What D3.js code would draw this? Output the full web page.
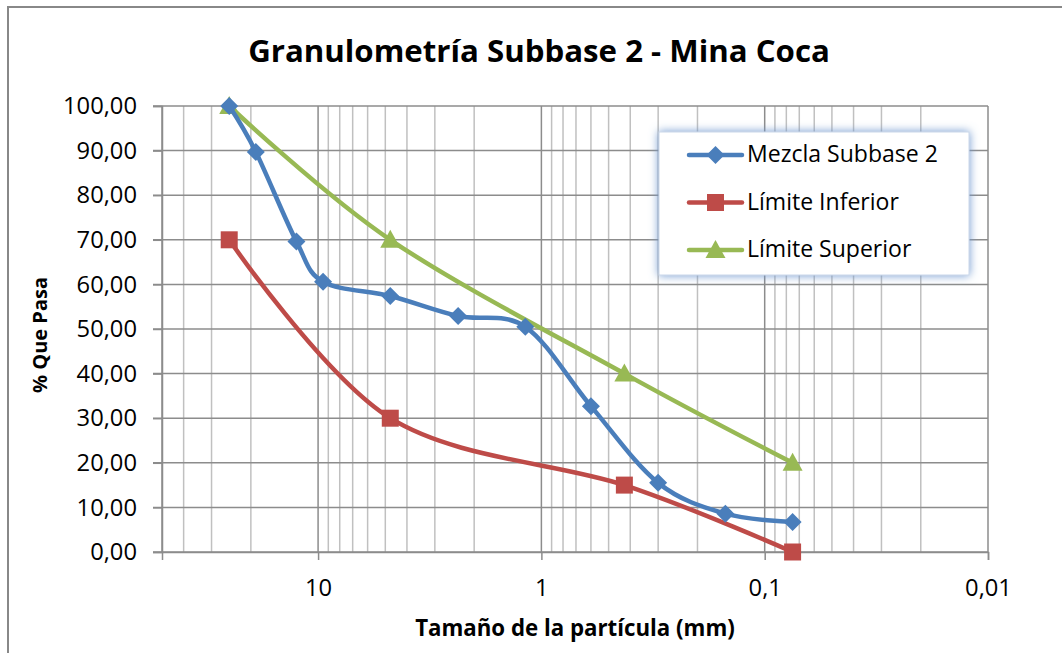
<!DOCTYPE html>
<html><head><meta charset="utf-8">
<script src="https://cdn.jsdelivr.net/npm/d3@7"></script>
<style>body{margin:0;background:#fff}svg{display:block}text{font-family:"Open Sans",sans-serif;fill:#000}</style>
</head><body><svg id="c" width="1062" height="653"></svg>
<script>
const sizes = [25, 19, 12.5, 9.5, 4.75, 2.36, 1.18, 0.6, 0.3, 0.15, 0.075];
const mezcla = [100, 89.7, 69.6, 60.6, 57.4, 52.9, 50.5, 32.7, 15.5, 8.6, 6.7];
const limSizes = [25, 4.75, 0.425, 0.075];
const limInf = [70, 30, 15, 0];
const limSup = [100, 70, 40, 20];
const yTicks = [0,10,20,30,40,50,60,70,80,90,100];
const xTicks = [10, 1, 0.1, 0.01];
const seriesNames = ["Mezcla Subbase 2", "Límite Inferior", "Límite Superior"];

const svg = d3.select("#c");
const x = d3.scaleLog().domain([50, 0.01]).range([162, 988]);
const y = d3.scaleLinear().domain([0, 100]).range([552, 106]);
const fmt = v => d3.format(".2f")(v).replace(".", ",");
const fmtX = v => String(v).replace(".", ",");

const defs = svg.append("defs");
const f = defs.append("filter").attr("id","glow").attr("x","-20%").attr("y","-30%").attr("width","140%").attr("height","160%");
f.append("feGaussianBlur").attr("in","SourceAlpha").attr("stdDeviation",5).attr("result","b");
f.append("feFlood").attr("flood-color","#6f98cf").attr("result","c");
f.append("feComposite").attr("in","c").attr("in2","b").attr("operator","in").attr("result","s");
const fm = f.append("feMerge"); fm.append("feMergeNode").attr("in","s"); fm.append("feMergeNode").attr("in","SourceGraphic");

svg.append("rect").attr("x",8).attr("y",7).attr("width",1100).attr("height",700)
  .attr("fill","none").attr("stroke","#888").attr("stroke-width",2);

function fit(sel, w){ const n=sel.node(); const cur=n.getComputedTextLength(); const fs=parseFloat(sel.attr("font-size")); const nf=fs*w/cur; sel.attr("font-size", nf); return nf; }

// minor gridlines
const minor = [];
for (let d = -2; d <= 1; d++) for (let k = 2; k <= 9; k++) { const v = k*Math.pow(10,d); if (v < 50) minor.push(v); }
svg.append("g").selectAll("line").data(minor).join("line")
  .attr("x1",d=>x(d)).attr("x2",d=>x(d)).attr("y1",y(0)).attr("y2",y(100))
  .attr("stroke","#c0c0c0").attr("stroke-width",1.5);
svg.append("g").selectAll("line").data(xTicks.concat([50])).join("line")
  .attr("x1",d=>x(d)).attr("x2",d=>x(d)).attr("y1",y(0)).attr("y2",y(100))
  .attr("stroke","#8c8c8c").attr("stroke-width",1.5);
svg.append("g").selectAll("line").data(yTicks).join("line")
  .attr("x1",x(50)-9).attr("x2",x(0.01)).attr("y1",d=>y(d)).attr("y2",d=>y(d))
  .attr("stroke","#8c8c8c").attr("stroke-width",1.5);

// axes
const ya = svg.append("g").attr("transform",`translate(${x(50)},0)`)
  .call(d3.axisLeft(y).tickValues(yTicks).tickFormat(fmt).tickSize(9).tickPadding(16));
ya.select(".domain").attr("stroke","#8c8c8c").attr("stroke-width",1.5);
ya.selectAll(".tick line").attr("stroke","#8c8c8c").attr("stroke-width",1.5);
ya.selectAll("text").attr("font-size",20).attr("font-family","Open Sans").attr("fill","#000");
const yfs = fit(ya.selectAll("text").filter(d=>d===100), 74);
ya.selectAll("text").attr("font-size", yfs);

const xa = svg.append("g").attr("transform",`translate(0,${y(0)})`)
  .call(d3.axisBottom(x).tickValues(xTicks).tickFormat(fmtX).tickSize(8).tickPadding(19));
xa.select(".domain").attr("stroke","#8c8c8c").attr("stroke-width",1.5);
xa.selectAll(".tick line").attr("stroke","#8c8c8c").attr("stroke-width",1.5);
xa.selectAll("text").attr("font-size", yfs).attr("font-family","Open Sans").attr("fill","#000");

// series
const curve = d3.line().curve(d3.curveCatmullRom.alpha(0)).x(d=>x(d[0])).y(d=>y(d[1]));
const diamond = "M0,-9L9,0L0,9L-9,0Z";
const square = "M-8.5,-8.5H8.5V8.5H-8.5Z";
const tri = "M0,-10L10,8L-10,8Z";
const S = [
  {name: seriesNames[0], color:"#4a7ebb", pts: d3.zip(sizes, mezcla), sym: diamond},
  {name: seriesNames[1], color:"#be4b48", pts: d3.zip(limSizes, limInf), sym: square},
  {name: seriesNames[2], color:"#98b954", pts: d3.zip(limSizes, limSup), sym: tri},
];
[S[1], S[2], S[0]].forEach(s => {
  svg.append("path").attr("d", curve(s.pts)).attr("fill","none").attr("stroke",s.color)
    .attr("stroke-width",4.5).attr("stroke-linejoin","round").attr("stroke-linecap","round");
  svg.append("g").selectAll("path").data(s.pts).join("path")
    .attr("d", s.sym)
    .attr("transform", d => `translate(${x(d[0])},${y(d[1])})`)
    .attr("fill", s.color);
});

// legend
svg.append("rect").attr("x",659).attr("y",132).attr("width",310).attr("height",143)
  .attr("fill","#fff").attr("stroke","#c9d7ea").attr("stroke-width",1).attr("filter","url(#glow)");
let lfs = 20;
S.forEach((s,i) => {
  const cy = 155 + i*47.5;
  svg.append("line").attr("x1",689).attr("x2",742).attr("y1",cy).attr("y2",cy)
    .attr("stroke",s.color).attr("stroke-width",4.5).attr("stroke-linecap","round");
  svg.append("path").attr("d", s.sym)
    .attr("transform",`translate(715.5,${cy})`).attr("fill",s.color);
  const t = svg.append("text").attr("x",747).attr("y",cy+7).attr("font-size",lfs).text(s.name);
  if (i===0) lfs = fit(t,191);
});

// titles
const t1 = svg.append("text").attr("x",539).attr("y",62).attr("text-anchor","middle")
  .attr("font-weight","bold").attr("font-size",28).text("Granulometría Subbase 2 - Mina Coca");
fit(t1, 582);
const t2 = svg.append("text").attr("x",575).attr("y",636).attr("text-anchor","middle")
  .attr("font-weight","bold").attr("font-size",19).text("Tamaño de la partícula (mm)");
fit(t2, 320);
const t3 = svg.append("text").attr("transform","translate(47,335) rotate(-90)").attr("text-anchor","middle")
  .attr("font-weight","bold").attr("font-size",19).text("% Que Pasa");
fit(t3, 116);
</script></body></html>
